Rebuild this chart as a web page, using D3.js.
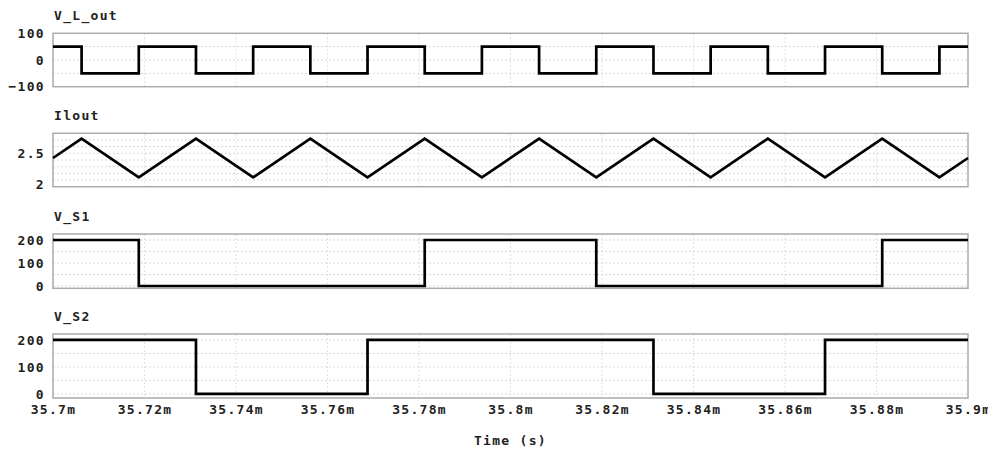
<!DOCTYPE html>
<html>
<head>
<meta charset="utf-8">
<script src="https://cdn.jsdelivr.net/npm/d3@7"></script>
<style>
  html, body { margin: 0; padding: 0; background: #fff; }
  svg { display: block; }
  text { font-family: "DejaVu Sans Mono", "Liberation Mono", monospace; font-weight: bold; font-size: 13px; fill: #222; letter-spacing: 1.3px; }
</style>
</head>
<body>
<svg id="chart" width="988" height="454"></svg>
<script>
// Time axis (ms)
const timeDomain = [35.7, 35.9];
const timeTicks = [35.7, 35.72, 35.74, 35.76, 35.78, 35.8, 35.82, 35.84, 35.86, 35.88, 35.9];

// Inductor voltage V_L_out (V), step waveform: value holds from each time to the next
const vLoutTime = [35.7, 35.70625, 35.71875, 35.73125, 35.74375, 35.75625, 35.76875, 35.78125,
  35.79375, 35.80625, 35.81875, 35.83125, 35.84375, 35.85625, 35.86875, 35.88125, 35.89375, 35.9];
const vLoutValue = [50, -50, 50, -50, 50, -50, 50, -50, 50, -50, 50, -50, 50, -50, 50, -50, 50, 50];

// Inductor current Ilout (A), piecewise linear
const iLoutTime = [35.7, 35.70625, 35.71875, 35.73125, 35.74375, 35.75625, 35.76875, 35.78125,
  35.79375, 35.80625, 35.81875, 35.83125, 35.84375, 35.85625, 35.86875, 35.88125, 35.89375, 35.9];
const iLoutValue = [2.43, 2.72, 2.14, 2.72, 2.14, 2.72, 2.14, 2.72,
  2.14, 2.72, 2.14, 2.72, 2.14, 2.72, 2.14, 2.72, 2.14, 2.43];

// Switch voltages (V), step waveforms
const vS1Time = [35.7, 35.71875, 35.78125, 35.81875, 35.88125, 35.9];
const vS1Value = [200, 0, 200, 0, 200, 200];
const vS2Time = [35.7, 35.73125, 35.76875, 35.83125, 35.86875, 35.9];
const vS2Value = [200, 0, 200, 0, 200, 200];

// Y-axis tick labels and grid levels per panel
const vLoutTicks = [-100, 0, 100];
const vLoutGrid = [-50, 0, 50];
const iLoutTicks = [2, 2.5];
const iLoutGrid = [2.1, 2.2, 2.3, 2.4, 2.5, 2.6, 2.7];
const vSTicks = [0, 100, 200];
const vSGrid = [0, 50, 100, 150, 200];

const panels = [
  { title: "V_L_out", t: vLoutTime, v: vLoutValue, step: true,  top: 33.3, bottom: 86.7, domain: [-100, 100], ticks: vLoutTicks, grid: vLoutGrid, fmt: d3.format("d") },
  { title: "Ilout",   t: iLoutTime, v: iLoutValue, step: false, top: 133.3, bottom: 186.7, domain: [2, 2.8],    ticks: iLoutTicks, grid: iLoutGrid, fmt: d => String(d), lift: 2 },
  { title: "V_S1",    t: vS1Time,   v: vS1Value,   step: true,  top: 234,   bottom: 288.3, domain: [-10, 226],  ticks: vSTicks,   grid: vSGrid,   fmt: d3.format("d") },
  { title: "V_S2",    t: vS2Time,   v: vS2Value,   step: true,  top: 334,   bottom: 398,   domain: [-15, 222],  ticks: vSTicks,   grid: vSGrid,   fmt: d3.format("d") }
];

const svg = d3.select("#chart");
const left = 53, right = 968;
const x = d3.scaleLinear().domain(timeDomain).range([left, right]);

panels.forEach(p => {
  const y = d3.scaleLinear().domain(p.domain).range([p.bottom, p.top]);
  const g = svg.append("g");

  // title
  g.append("text")
    .attr("x", left + 1)
    .attr("y", p.top - 18)
    .attr("dominant-baseline", "central")
    .text(p.title);

  // vertical grid
  g.append("g").selectAll("line").data(timeTicks.slice(1, -1)).join("line")
    .attr("x1", d => x(d)).attr("x2", d => x(d))
    .attr("y1", p.top).attr("y2", p.bottom)
    .attr("stroke", "#e0e0e0").attr("stroke-width", 1)
    .attr("stroke-dasharray", "2,2");

  // horizontal grid
  g.append("g").selectAll("line").data(p.grid).join("line")
    .attr("x1", left).attr("x2", right)
    .attr("y1", d => y(d)).attr("y2", d => y(d))
    .attr("stroke", "#d8d8d8").attr("stroke-width", 1)
    .attr("stroke-dasharray", "2,2");

  // y tick labels
  const yAxis = d3.axisLeft(y).tickValues(p.ticks).tickFormat(p.fmt).tickSize(0).tickPadding(8);
  const ya = g.append("g").attr("transform", `translate(${left},0)`).call(yAxis);
  ya.select(".domain").remove();
  ya.selectAll("text").attr("font-size", null).attr("font-family", null).attr("fill", "#222");
  // keep the lowest label inside the frame
  if (p.lift) ya.selectAll(".tick").filter(d => d === p.domain[0]).select("text").attr("dy", "0.1em");

  // frame
  g.append("rect")
    .attr("x", left).attr("y", p.top)
    .attr("width", right - left).attr("height", p.bottom - p.top)
    .attr("fill", "none").attr("stroke", "#ababab").attr("stroke-width", 1.5);

  // waveform
  const pts = p.t.map((t, i) => [t, p.v[i]]);
  const line = d3.line()
    .x(d => x(d[0])).y(d => y(d[1]))
    .curve(p.step ? d3.curveStepAfter : d3.curveLinear);
  g.append("path")
    .attr("d", line(pts))
    .attr("fill", "none").attr("stroke", "#000")
    .attr("stroke-width", 2.7)
    .attr("stroke-linejoin", "miter");
});

// time axis labels
const xAxis = d3.axisBottom(x).tickValues(timeTicks)
  .tickFormat(d => (+d.toFixed(3)) + "m").tickSize(0).tickPadding(7);
const xa = svg.append("g").attr("transform", `translate(0,${398})`).call(xAxis);
xa.select(".domain").remove();
xa.selectAll("text").attr("font-size", null).attr("font-family", null).attr("fill", "#222");

svg.append("text")
  .attr("x", (left + right) / 2)
  .attr("y", 440)
  .attr("text-anchor", "middle")
  .attr("dominant-baseline", "central")
  .text("Time (s)");
</script>
</body>
</html>
